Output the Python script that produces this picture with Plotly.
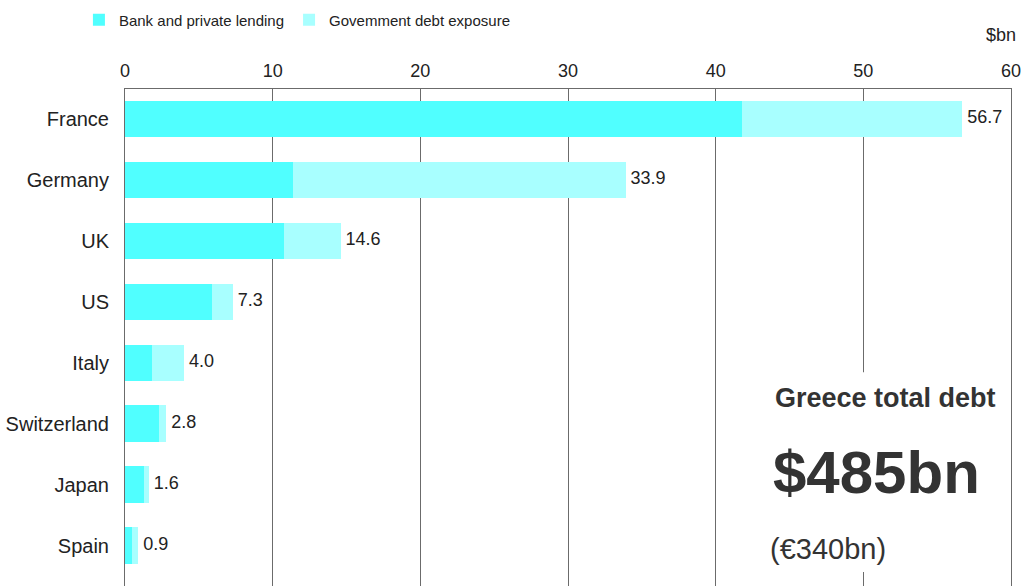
import plotly.graph_objects as go

countries = ["France", "Germany", "UK", "US", "Italy", "Switzerland", "Japan", "Spain"]
bank_lending = [41.8, 11.4, 10.8, 5.9, 1.8, 2.3, 1.3, 0.45]
govt_exposure = [14.9, 22.5, 3.8, 1.4, 2.2, 0.5, 0.3, 0.45]
totals = [56.7, 33.9, 14.6, 7.3, 4.0, 2.8, 1.6, 0.9]
x_ticks = [0, 10, 20, 30, 40, 50, 60]

FONT = "Liberation Sans, Arial, sans-serif"
TEXT = "#222222"
GRID = "#6b6b6b"

fig = go.Figure()

fig.add_trace(go.Bar(
    y=countries, x=bank_lending, orientation="h",
    name="Bank and private lending",
    marker=dict(color="#50FFFF", line=dict(width=0)),
    width=0.6,
))
fig.add_trace(go.Bar(
    y=countries, x=govt_exposure, orientation="h",
    name="Govemment debt exposure",
    marker=dict(color="#A8FFFF", line=dict(width=0)),
    width=0.6,
))

# total labels at the end of each bar
fig.add_trace(go.Scatter(
    y=countries, x=totals, mode="text",
    text=[f" {v:.1f}" for v in totals],
    textposition="middle right",
    textfont=dict(family=FONT, size=18, color=TEXT),
    showlegend=False, hoverinfo="skip",
))

fig.update_xaxes(
    side="top", range=[0, 60], tickvals=x_ticks,
    showgrid=True, gridcolor=GRID, gridwidth=1,
    zeroline=False, showline=True, linecolor=GRID, linewidth=1,
    ticks="", ticklabelstandoff=4,
    tickfont=dict(family=FONT, size=18, color=TEXT),
)
fig.update_yaxes(
    categoryorder="array", categoryarray=countries,
    range=[7.66, -0.49],
    showgrid=False, zeroline=False,
    showline=True, mirror=True, linecolor=GRID, linewidth=1,
    ticks="", ticklabelstandoff=11,
    tickfont=dict(family=FONT, size=20, color=TEXT),
)

# white panel behind the summary text, hiding the grid line
fig.add_shape(type="rect", xref="paper", yref="paper",
              x0=0.80, x1=0.92, y0=0.028, y1=0.43,
              fillcolor="white", line=dict(width=0), layer="above")

fig.add_annotation(text="Greece total debt", xref="paper", yref="paper",
                   x=0.858, y=0.378, xanchor="center", yanchor="middle",
                   showarrow=False,
                   font=dict(family=FONT, size=27, color="#333333", weight="bold"))
fig.add_annotation(text="$485bn", xref="paper", yref="paper",
                   x=0.848, y=0.229, xanchor="center", yanchor="middle",
                   showarrow=False,
                   font=dict(family=FONT, size=60, color="#333333", weight="bold"))
fig.add_annotation(text="(€340bn)", xref="paper", yref="paper",
                   x=0.726, y=0.074, xanchor="left", yanchor="middle",
                   showarrow=False,
                   font=dict(family=FONT, size=29, color="#333333"))
fig.add_annotation(text="$bn", xref="paper", yref="paper",
                   x=1.008, y=1.109, xanchor="right", yanchor="middle",
                   showarrow=False,
                   font=dict(family=FONT, size=18, color=TEXT))

fig.update_layout(
    barmode="stack",
    width=1023, height=586,
    margin=dict(l=125, r=12, t=89, b=0, autoexpand=False),
    plot_bgcolor="white", paper_bgcolor="white",
    legend=dict(orientation="h", x=-0.052, xanchor="left",
                y=1.139, yanchor="middle",
                font=dict(family=FONT, size=15, color=TEXT),
                traceorder="normal"),
)

# drop the default body margin so the figure fills the window exactly
fig.write_html("out.html", config={"displayModeBar": False},
               post_script="document.body.style.margin = '0';")
